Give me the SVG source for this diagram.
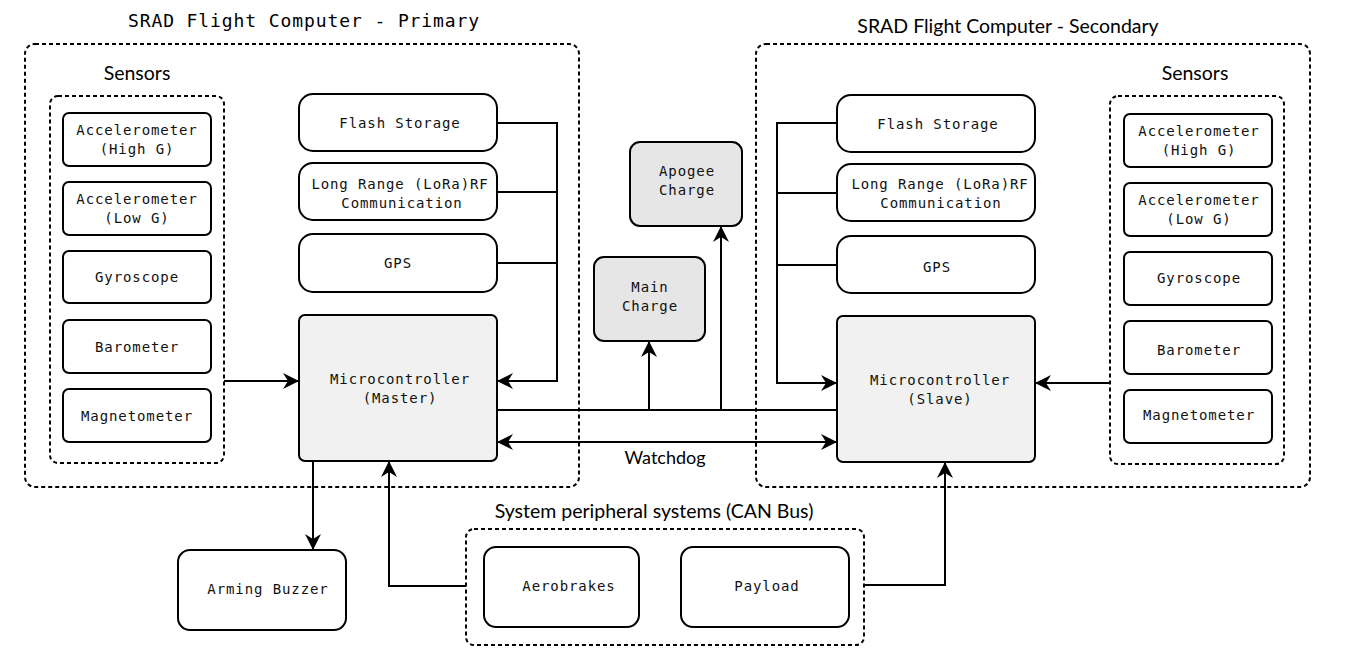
<svg xmlns="http://www.w3.org/2000/svg" width="1347" height="666" viewBox="0 0 1347 666">
<defs>
<style>
.grp{fill:none;stroke:#000;stroke-width:2;stroke-dasharray:4 3}
.box{fill:#fff;stroke:#000;stroke-width:2}
.mcu{fill:#f0f1f0;stroke:#000;stroke-width:2}
.chg{fill:#e6e6e6;stroke:#000;stroke-width:2}
.t{font-family:"DejaVu Sans Mono","Liberation Mono",monospace;font-size:14px;letter-spacing:0.9px;text-anchor:middle;fill:#111}
.title{font-family:"DejaVu Sans Mono","Liberation Mono",monospace;font-size:18px;letter-spacing:0.9px;text-anchor:middle;fill:#000}
.lbl{font-family:Lato,"Liberation Sans",sans-serif;font-size:19.5px;text-anchor:middle;fill:#000}
.c{fill:none;stroke:#000;stroke-width:2}
</style>
<marker id="ah" viewBox="0 0 16 16" refX="15" refY="8" markerWidth="16" markerHeight="16" markerUnits="userSpaceOnUse" orient="auto-start-reverse">
<path d="M0,0 L16,8 L0,16 L5,8 z" fill="#000"/>
</marker>
</defs>
<rect width="1347" height="666" fill="#fff"/>

<g id="primary-group">
<rect class="grp" x="25" y="44" width="554" height="443" rx="10"/>
<text class="title" x="304" y="27">SRAD Flight Computer - Primary</text>
</g>
<g id="primary-sensors">
<rect class="grp" x="50" y="96" width="174" height="367" rx="8"/>
<text class="lbl" x="137" y="80">Sensors</text>
</g>
<g id="p-accel-high"><rect class="box" x="63" y="113" width="148" height="53" rx="6"/><text class="t" x="137" y="135">Accelerometer</text><text class="t" x="137" y="154">(High G)</text></g>
<g id="p-accel-low"><rect class="box" x="63" y="182" width="148" height="53" rx="6"/><text class="t" x="137" y="204">Accelerometer</text><text class="t" x="137" y="223">(Low G)</text></g>
<g id="p-gyro"><rect class="box" x="63" y="251" width="148" height="52" rx="6"/><text class="t" x="137" y="282">Gyroscope</text></g>
<g id="p-baro"><rect class="box" x="63" y="320" width="148" height="53" rx="6"/><text class="t" x="137" y="352">Barometer</text></g>
<g id="p-mag"><rect class="box" x="63" y="389" width="148" height="53" rx="6"/><text class="t" x="137" y="421">Magnetometer</text></g>
<g id="p-flash"><rect class="box" x="299" y="94" width="198" height="57" rx="14"/><text class="t" x="400" y="128">Flash Storage</text></g>
<g id="p-lora"><rect class="box" x="299" y="163" width="198" height="57" rx="14"/><text class="t" x="400" y="189">Long Range (LoRa)RF</text><text class="t" x="402" y="208">Communication</text></g>
<g id="p-gps"><rect class="box" x="299" y="234" width="198" height="58" rx="14"/><text class="t" x="398" y="268">GPS</text></g>
<g id="p-mcu"><rect class="mcu" x="299" y="315" width="198" height="146" rx="6"/><text class="t" x="400" y="384">Microcontroller</text><text class="t" x="400" y="403">(Master)</text></g>

<g id="secondary-group">
<rect class="grp" x="756" y="44" width="554" height="443" rx="10"/>
<text class="lbl" x="1008" y="33">SRAD Flight Computer - Secondary</text>
</g>
<g id="secondary-sensors">
<rect class="grp" x="1110" y="96" width="174" height="368" rx="8"/>
<text class="lbl" x="1195" y="80">Sensors</text>
</g>
<g id="s-accel-high"><rect class="box" x="1124" y="114" width="148" height="53" rx="6"/><text class="t" x="1199" y="136">Accelerometer</text><text class="t" x="1199" y="155">(High G)</text></g>
<g id="s-accel-low"><rect class="box" x="1124" y="183" width="148" height="53" rx="6"/><text class="t" x="1199" y="205">Accelerometer</text><text class="t" x="1199" y="224">(Low G)</text></g>
<g id="s-gyro"><rect class="box" x="1124" y="252" width="148" height="53" rx="6"/><text class="t" x="1199" y="283">Gyroscope</text></g>
<g id="s-baro"><rect class="box" x="1124" y="321" width="148" height="53" rx="6"/><text class="t" x="1199" y="355">Barometer</text></g>
<g id="s-mag"><rect class="box" x="1124" y="390" width="148" height="53" rx="6"/><text class="t" x="1199" y="420">Magnetometer</text></g>
<g id="s-flash"><rect class="box" x="837" y="95" width="198" height="57" rx="14"/><text class="t" x="938" y="129">Flash Storage</text></g>
<g id="s-lora"><rect class="box" x="837" y="164" width="198" height="57" rx="14"/><text class="t" x="940" y="189">Long Range (LoRa)RF</text><text class="t" x="941" y="208">Communication</text></g>
<g id="s-gps"><rect class="box" x="837" y="236" width="198" height="57" rx="14"/><text class="t" x="937" y="272">GPS</text></g>
<g id="s-mcu"><rect class="mcu" x="837" y="316" width="198" height="146" rx="6"/><text class="t" x="940" y="385">Microcontroller</text><text class="t" x="940" y="404">(Slave)</text></g>

<g id="apogee"><rect class="chg" x="630" y="142" width="112" height="84" rx="10"/><text class="t" x="687" y="176">Apogee</text><text class="t" x="687" y="195">Charge</text></g>
<g id="main"><rect class="chg" x="594" y="257" width="111" height="84" rx="10"/><text class="t" x="650" y="292">Main</text><text class="t" x="650" y="311">Charge</text></g>

<g id="buzzer"><rect class="box" x="178" y="550" width="168" height="80" rx="12"/><text class="t" x="268" y="594">Arming Buzzer</text></g>
<g id="can-group">
<rect class="grp" x="466" y="529" width="398" height="116" rx="8"/>
<text class="lbl" x="654" y="518">System peripheral systems (CAN Bus)</text>
</g>
<g id="aerobrakes"><rect class="box" x="484" y="547" width="155" height="80" rx="12"/><text class="t" x="569" y="591">Aerobrakes</text></g>
<g id="payload"><rect class="box" x="681" y="547" width="168" height="80" rx="12"/><text class="t" x="767" y="591">Payload</text></g>

<g id="connectors">
<path class="c" d="M224,381 H298" marker-end="url(#ah)"/>
<path class="c" d="M497,123 H557 V381 H498" marker-end="url(#ah)"/>
<path class="c" d="M497,192 H557"/>
<path class="c" d="M497,263 H557"/>
<path class="c" d="M497,410 H837"/>
<path class="c" d="M649,410 V342" marker-end="url(#ah)"/>
<path class="c" d="M721,410 V227" marker-end="url(#ah)"/>
<path class="c" d="M498,442 H836" marker-start="url(#ah)" marker-end="url(#ah)"/>
<text class="lbl" x="665" y="464" style="font-size:18px">Watchdog</text>
<path class="c" d="M837,123 H777 V383 H836" marker-end="url(#ah)"/>
<path class="c" d="M837,193 H777"/>
<path class="c" d="M837,265 H777"/>
<path class="c" d="M1110,383 H1036" marker-end="url(#ah)"/>
<path class="c" d="M313,461 V549" marker-end="url(#ah)"/>
<path class="c" d="M466,586 H389 V462" marker-end="url(#ah)"/>
<path class="c" d="M864,585 H945 V463" marker-end="url(#ah)"/>
</g>
</svg>
